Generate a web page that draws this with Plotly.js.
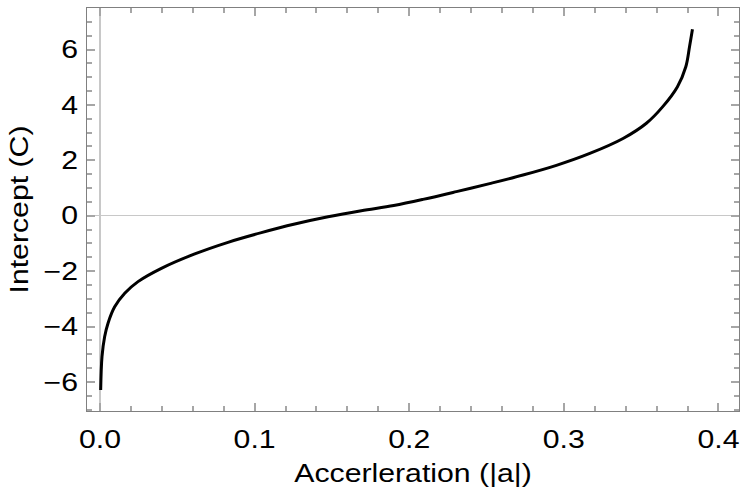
<!DOCTYPE html>
<html>
<head>
<meta charset="utf-8">
<script src="https://cdn.plot.ly/plotly-3.0.1.min.js"></script>
<style>
  html, body { margin: 0; padding: 0; background: #fff; }
  #chart { width: 750px; height: 498px; }
</style>
</head>
<body>
<div id="chart"></div>
<script>
// Intercept C as a function of acceleration magnitude |a|
const accel = [
  0.00045, 0.0013, 0.003, 0.0052, 0.0095, 0.016, 0.0246, 0.0397, 0.0613,
  0.0828, 0.1044, 0.126, 0.1475, 0.169, 0.19, 0.2089, 0.2305, 0.252,
  0.2736, 0.2952, 0.3168, 0.3383, 0.3534, 0.364, 0.3735, 0.3789, 0.3813,
  0.3832
];
const intercept = [
  -6.29, -5.09, -4.37, -3.88, -3.29, -2.80, -2.38, -1.90, -1.38,
  -0.96, -0.61, -0.30, -0.04, 0.18, 0.37, 0.59, 0.87, 1.16,
  1.47, 1.82, 2.25, 2.79, 3.34, 3.94, 4.66, 5.38, 6.10,
  6.73
];

const xTickVals = [0, 0.1, 0.2, 0.3, 0.4];
const xTickText = ['0.0', '0.1', '0.2', '0.3', '0.4'];
const yTickVals = [-6, -4, -2, 0, 2, 4, 6];
const yTickText = ['\u22126', '\u22124', '\u22122', '0', '2', '4', '6'];

const frameColor = '#808080';
const tickColor = '#a6a6a6';
const axisFont = { family: 'Liberation Sans, Arial, sans-serif', size: 25, color: '#000' };
// horizontal widening applied to the axis text glyphs
const textStretch = 1.21;

const trace = {
  x: accel,
  y: intercept,
  type: 'scatter',
  mode: 'lines',
  line: { color: '#000', width: 3, shape: 'spline', smoothing: 1 },
  hoverinfo: 'skip'
};

const layout = {
  width: 750,
  height: 498,
  margin: { l: 87, r: 11, t: 8, b: 87 },
  paper_bgcolor: '#fff',
  plot_bgcolor: '#fff',
  showlegend: false,
  font: axisFont,
  xaxis: {
    range: [-0.0084, 0.4133],
    tickvals: xTickVals,
    ticktext: xTickText,
    ticks: 'inside',
    ticklen: 8,
    tickwidth: 2,
    tickcolor: tickColor,
    minor: { dtick: 0.02, ticks: 'inside', ticklen: 5, tickwidth: 2, tickcolor: tickColor },
    showline: true,
    linecolor: frameColor,
    linewidth: 1,
    mirror: 'allticks',
    showgrid: false,
    zeroline: true,
    zerolinecolor: '#c8c8c8',
    zerolinewidth: 2,
    tickfont: axisFont,
    title: { text: 'Accerleration (|a|)', font: axisFont, standoff: 11 }
  },
  yaxis: {
    range: [-7.05, 7.5],
    tickvals: yTickVals,
    ticktext: yTickText,
    ticks: 'inside',
    ticklen: 8,
    tickwidth: 2,
    tickcolor: tickColor,
    minor: { dtick: 0.5, ticks: 'inside', ticklen: 5, tickwidth: 2, tickcolor: tickColor },
    showline: true,
    linecolor: frameColor,
    linewidth: 1,
    mirror: 'allticks',
    showgrid: false,
    zeroline: true,
    zerolinecolor: '#c8c8c8',
    zerolinewidth: 1.5,
    tickfont: axisFont,
    title: { text: 'Intercept (C)', font: axisFont, standoff: 5 }
  }
};

// extra offsets for the axis text, in px
const textOffsets = {
  xtick: [0, 6],
  ytick: [-3, 0],
  xtitle: [0, 7],
  ytitle: [-11, 0]
};

Plotly.newPlot('chart', [trace], layout, { displayModeBar: false, staticPlot: true }).then(gd => {
  // widen tick labels and axis titles along their reading direction, about their anchor
  const groups = [
    ['.xtick text', textOffsets.xtick],
    ['.ytick text', textOffsets.ytick],
    ['.g-xtitle text', textOffsets.xtitle],
    ['.g-ytitle text', textOffsets.ytitle]
  ];
  groups.forEach(([sel, off]) => {
    gd.querySelectorAll(sel).forEach(t => {
      const x = parseFloat(t.getAttribute('x')) || 0;
      const y = parseFloat(t.getAttribute('y')) || 0;
      const tr = t.getAttribute('transform') || '';
      t.setAttribute('transform',
        `translate(${off[0]},${off[1]}) ${tr} translate(${x},${y}) scale(${textStretch},1) translate(${-x},${-y})`);
    });
  });
});
</script>
</body>
</html>
